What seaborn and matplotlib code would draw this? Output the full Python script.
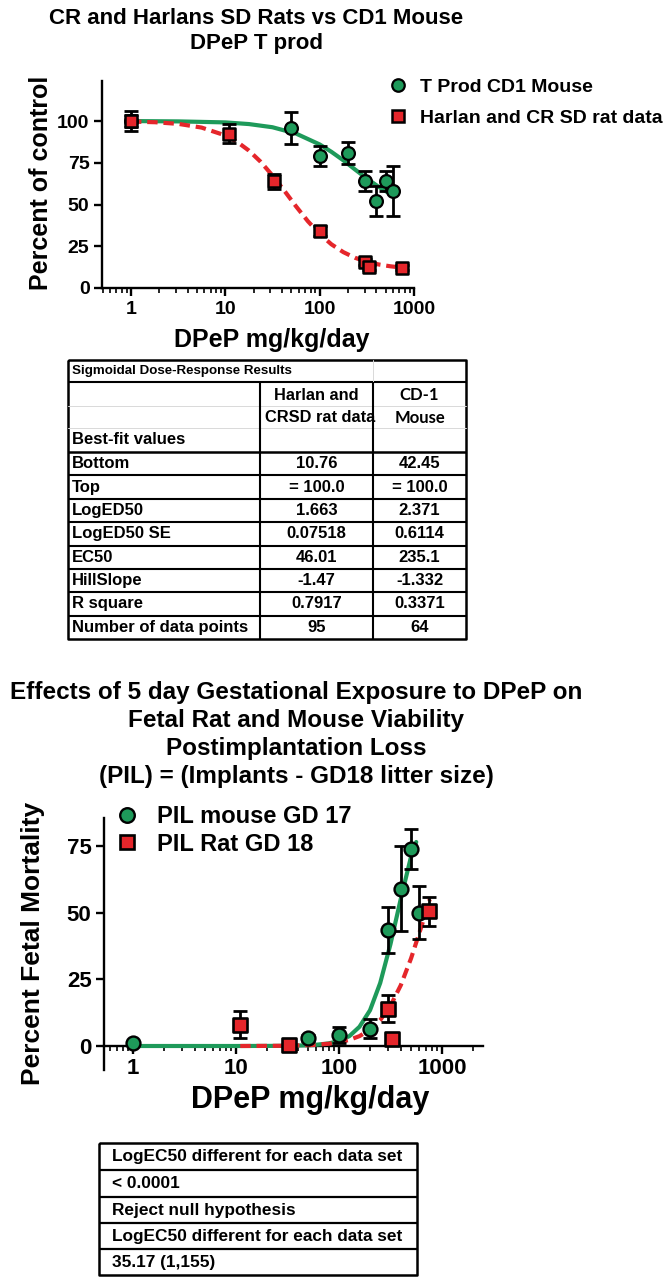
import matplotlib
matplotlib.use("Agg")
import matplotlib.pyplot as plt
from matplotlib.lines import Line2D
from matplotlib.ticker import FixedLocator, LogLocator, NullFormatter
import seaborn as sns

# ---------------- Top chart data ----------------
top_title = ["CR and Harlans SD Rats vs CD1 Mouse", "DPeP T prod"]
top_xlabel = "DPeP mg/kg/day"
top_ylabel = "Percent of control"
top_series = ["T Prod CD1 Mouse", "Harlan and CR SD rat data"]
top_yticks = [0, 25, 50, 75, 100]
top_xticks = [1, 10, 100, 1000]
top_xticklabels = ["1", "10", "100", "1000"]

mouse_dose = [1, 50, 100, 200, 300, 400, 500, 600]
mouse_pct = [100, 96, 79, 81, 64, 52, 64, 58]
mouse_sem = [6, 9.5, 6, 6.5, 6, 9, 6, 15]

rat_dose = [1, 11, 33, 100, 300, 330, 750]
rat_pct = [100, 92.5, 64, 34, 15.5, 12.5, 12]
rat_sem = [3.5, 5.5, 4.5, 3, 2, 1.5, 1.5]

# fitted curves
mouse_fit_dose = [1, 3.2, 10, 17.8, 31.6, 56.2, 100, 133, 178, 237, 316, 422, 600]
mouse_fit_pct = [100, 99.8, 99.2, 98.2, 96.3, 92.5, 86.0, 81.6, 76.5, 71.0, 65.6, 60.6, 55.3]

rat_fit_dose = [1, 1.8, 3.2, 5.6, 10, 13.3, 17.8, 23.7, 31.6, 42.2, 56.2, 75, 100,
                133, 178, 237, 316, 422, 562, 750]
rat_fit_pct = [99.7, 99.3, 98.3, 96.1, 91.4, 87.6, 82.3, 75.6, 67.4, 58.3, 48.9, 40.0,
               32.4, 26.2, 21.5, 18.1, 15.7, 14.1, 13.0, 12.2]

# ---------------- Table 1 ----------------
tab1_caption = "Sigmoidal Dose-Response Results"
tab1_col_rat = ["Harlan and", "CRSD rat data"]
tab1_col_mouse = ["CD-1", "Mouse"]
tab1_section = "Best-fit values"
tab1_rows = ["Bottom", "Top", "LogED50", "LogED50 SE", "EC50", "HillSlope",
             "R square", "Number of data points"]
tab1_rat = ["10.76", "= 100.0", "1.663", "0.07518", "46.01", "-1.47", "0.7917", "95"]
tab1_mouse = ["42.45", "= 100.0", "2.371", "0.6114", "235.1", "-1.332", "0.3371", "64"]

# ---------------- Bottom chart data ----------------
bot_title = ["Effects of 5 day Gestational Exposure to DPeP on",
             "Fetal Rat and Mouse Viability",
             "Postimplantation Loss",
             "(PIL) = (Implants - GD18 litter size)"]
bot_xlabel = "DPeP mg/kg/day"
bot_ylabel = "Percent Fetal Mortality"
bot_series = ["PIL mouse GD 17", "PIL Rat GD 18"]
bot_yticks = [0, 25, 50, 75]
bot_xticks = [1, 10, 100, 1000]
bot_xticklabels = ["1", "10", "100", "1000"]

pil_mouse_dose = [1, 50, 100, 200, 300, 400, 500, 600]
pil_mouse_pct = [1, 3, 4, 6.5, 43.5, 59, 74, 50]
pil_mouse_sem = [0.5, 1, 3, 3.5, 8.5, 16, 7.5, 10]

pil_rat_dose = [11, 33, 300, 330, 750]
pil_rat_pct = [8, 0.5, 14, 2.5, 50.5]
pil_rat_sem = [5, 0.5, 5, 0, 5.5]

pil_mouse_fit_dose = [1, 10, 31.6, 56.2, 79.4, 100, 126, 158, 200, 251, 316, 398, 501, 562]
pil_mouse_fit_pct = [0, 0, 0.06, 0.35, 0.97, 1.9, 3.7, 7.2, 13.4, 23.6, 38.2, 55.2, 71.1, 76.5]

pil_rat_fit_dose = [11, 17.8, 31.6, 56.2, 79.4, 100, 126, 158, 200, 251, 316, 398, 501, 631, 760]
pil_rat_fit_pct = [0, 0.03, 0.1, 0.4, 0.85, 1.4, 2.3, 3.7, 6.1, 9.7, 15.1, 22.8, 32.9, 44.8, 55]

# ---------------- Table 2 ----------------
tab2_rows = ["LogEC50 different for each data set", "< 0.0001", "Reject null hypothesis",
             "LogEC50 different for each data set", "35.17 (1,155)"]

# ================= styling =================
sns.set_theme(style="ticks")
plt.rcParams['font.family'] = ['Liberation Sans', 'DejaVu Sans']
plt.rcParams['font.weight'] = 'bold'
plt.rcParams['axes.labelweight'] = 'bold'
plt.rcParams['axes.linewidth'] = 1.6
for key in ('text.color', 'axes.labelcolor', 'xtick.color', 'ytick.color', 'axes.edgecolor'):
    plt.rcParams[key] = 'black'

GREEN = '#1e9a5a'
RED = '#e5262b'
W, H = 670, 1280

fig = plt.figure(figsize=(W / 100, H / 100), dpi=100)
fig.patch.set_facecolor('white')


def fpos(x0, y0, x1, y1):
    # pixel box (y down) -> figure fraction rect
    return [x0 / W, 1 - y1 / H, (x1 - x0) / W, (y1 - y0) / H]


def style_axis(ax, labelsize):
    sns.despine(ax=ax)
    for s in ('left', 'bottom'):
        ax.spines[s].set_linewidth(1.7)
        ax.spines[s].set_color('black')
    ax.set_xscale('log')
    ax.xaxis.set_minor_locator(LogLocator(base=10, subs=range(2, 10), numticks=20))
    ax.xaxis.set_minor_formatter(NullFormatter())
    ax.tick_params(which='major', direction='out', length=6, width=1.7, colors='black',
                   labelsize=labelsize, pad=3)
    ax.tick_params(which='minor', direction='out', length=3.5, width=1.2, colors='black')
    ax.tick_params(axis='y', which='minor', left=False)
    ax.set_facecolor('white')
    ax.grid(False)


def draw_series(ax, fit_x, fit_y, color, dashed, px, py, pe):
    sns.lineplot(x=fit_x, y=fit_y, ax=ax, color=color, lw=3.0, estimator=None,
                 sort=False, zorder=3 if not dashed else 3.5)
    ln = ax.lines[-1]
    if dashed:
        ln.set_dashes([2.5, 1.4])
    ax.errorbar(px, py, yerr=pe, fmt='none', ecolor='black', elinewidth=2.0,
                capsize=4.8, capthick=2.0, zorder=4)


# ---------- table overlay axes ----------
axt = fig.add_axes([0, 0, 1, 1])
axt.set_xlim(0, W)
axt.set_ylim(H, 0)
axt.axis('off')
axt.patch.set_alpha(0)

# ================= TOP CHART =================
ax1 = fig.add_axes(fpos(102, 81, 414, 288))
style_axis(ax1, 14)
draw_series(ax1, mouse_fit_dose, mouse_fit_pct, GREEN, False, mouse_dose, mouse_pct, mouse_sem)
draw_series(ax1, rat_fit_dose, rat_fit_pct, RED, True, rat_dose, rat_pct, rat_sem)
sns.scatterplot(x=mouse_dose, y=mouse_pct, ax=ax1, marker='o', s=85, color=GREEN,
                edgecolor='black', linewidth=1.6, zorder=5)
sns.scatterplot(x=rat_dose, y=rat_pct, ax=ax1, marker='s', s=85, color=RED,
                edgecolor='black', linewidth=1.8, zorder=6)
ax1.set_xlim(0.493, 1000)
ax1.set_ylim(0, 124)
ax1.yaxis.set_major_locator(FixedLocator(top_yticks))
ax1.set_xticks(top_xticks)
ax1.set_xticklabels(top_xticklabels)
ax1.set_xlabel(top_xlabel, fontsize=18, fontweight='bold', va='center')
ax1.set_ylabel(top_ylabel, fontsize=18, fontweight='bold', va='center')
ax1.xaxis.set_label_coords((272 - 102) / 312, (288 - 340) / 207)
ax1.yaxis.set_label_coords((41 - 102) / 312, (288 - 183) / 207)

h1 = [Line2D([], [], ls='none', marker='o', ms=9, mfc=GREEN, mec='black', mew=1.6),
      Line2D([], [], ls='none', marker='s', ms=9, mfc=RED, mec='black', mew=1.8)]
fig.legend(h1, top_series, loc='upper left', bbox_to_anchor=(388 / W, 1 - 78 / H),
           frameon=False, fontsize=14, handlelength=1.0, handletextpad=0.63,
           labelspacing=0.72, borderpad=0, borderaxespad=0)

fig.text(256 / W, 1 - 18 / H, top_title[0], ha='center', va='center', fontsize=16,
         fontweight='bold')
fig.text(256 / W, 1 - 43 / H, top_title[1], ha='center', va='center', fontsize=16,
         fontweight='bold')

# ================= TABLE 1 =================
L, R, C1, C2 = 68, 466, 260, 373
T, B = 360, 639
row_top = 452
row_h = (B - row_top) / len(tab1_rows)
k = dict(color='black', solid_capstyle='butt')
axt.plot([L, R, R, L, L], [T, T, B, B, T], lw=1.8, **k)
axt.plot([L, R], [382, 382], lw=1.5, **k)
axt.plot([L, R], [row_top, row_top], lw=1.8, **k)
for yy in (406, 428):
    axt.plot([L, R], [yy, yy], lw=0.7, color='#d9d9d9')
axt.plot([C2, C2], [T, 382], lw=0.7, color='#d9d9d9')
for i in range(1, len(tab1_rows)):
    yy = row_top + i * row_h
    axt.plot([L, R], [yy, yy], lw=1.5, **k)
axt.plot([C1, C1], [382, B], lw=1.5, **k)
axt.plot([C2, C2], [382, B], lw=1.5, **k)

axt.text(72, 371, tab1_caption, fontsize=9.6, fontweight='bold', va='center', ha='left')
cx_rat, cx_mouse = (C1 + C2) / 2, (C2 + R) / 2
axt.text(cx_rat, 395, tab1_col_rat[0], fontsize=11.8, fontweight='bold', ha='center', va='center')
axt.text(cx_rat + 4, 418, tab1_col_rat[1], fontsize=11.8, fontweight='bold', ha='center', va='center')
axt.text(cx_mouse, 395, tab1_col_mouse[0], fontsize=12, fontweight='bold', ha='center',
         va='center', family=['Lato', 'DejaVu Sans'])
axt.text(cx_mouse, 418, tab1_col_mouse[1], fontsize=12, fontweight='bold', ha='center',
         va='center', family=['Lato', 'DejaVu Sans'])
axt.text(72, 440, tab1_section, fontsize=12, fontweight='bold', ha='left', va='center')
for i, (lab, a, b) in enumerate(zip(tab1_rows, tab1_rat, tab1_mouse)):
    yc = row_top + (i + 0.5) * row_h
    axt.text(72, yc, lab, fontsize=12, fontweight='bold', ha='left', va='center')
    axt.text(cx_rat, yc, a, fontsize=12, fontweight='bold', ha='center', va='center')
    axt.text(cx_mouse, yc, b, fontsize=12, fontweight='bold', ha='center', va='center')

# ================= BOTTOM CHART =================
for i, line in enumerate(bot_title):
    fig.text(296 / W, 1 - (692 + 28 * i) / H, line, ha='center', va='center',
             fontsize=17.5, fontweight='bold')

ax2 = fig.add_axes(fpos(104, 818, 483, 1070))
style_axis(ax2, 16)
draw_series(ax2, pil_mouse_fit_dose, pil_mouse_fit_pct, GREEN, False,
            pil_mouse_dose, pil_mouse_pct, pil_mouse_sem)
draw_series(ax2, pil_rat_fit_dose, pil_rat_fit_pct, RED, True,
            pil_rat_dose, pil_rat_pct, pil_rat_sem)
sns.scatterplot(x=pil_mouse_dose, y=pil_mouse_pct, ax=ax2, marker='o', s=100, color=GREEN,
                edgecolor='black', linewidth=1.7, zorder=5)
sns.scatterplot(x=pil_rat_dose, y=pil_rat_pct, ax=ax2, marker='s', s=100, color=RED,
                edgecolor='black', linewidth=1.9, zorder=6)
ax2.set_xlim(0.523, 2500)
ax2.set_ylim(-9, 85.5)
ax2.spines['bottom'].set_position(('data', 0))
ax2.yaxis.set_major_locator(FixedLocator(bot_yticks))
ax2.set_xticks(bot_xticks)
ax2.set_xticklabels(bot_xticklabels)
ax2.set_xlabel(bot_xlabel, fontsize=22, fontweight='bold', va='center')
ax2.set_ylabel(bot_ylabel, fontsize=19, fontweight='bold', va='center')
ax2.xaxis.set_label_coords((310 - 104) / 379, (1070 - 1100) / 252)
ax2.yaxis.set_label_coords((33 - 104) / 379, (1070 - 943) / 252)

h2 = [Line2D([], [], ls='none', marker='o', ms=10.5, mfc=GREEN, mec='black', mew=1.7),
      Line2D([], [], ls='none', marker='s', ms=10.5, mfc=RED, mec='black', mew=1.9)]
ax2.legend(h2, bot_series, loc='upper left', bbox_to_anchor=(115 / W, 1 - 805 / H),
           bbox_transform=fig.transFigure, frameon=False, fontsize=17, handlelength=1.0,
           handletextpad=0.78, labelspacing=0.2, borderpad=0, borderaxespad=0)

# ================= TABLE 2 =================
L2, R2 = 99, 417
lines2 = [1143, 1170, 1197, 1223, 1249, 1275]
axt.plot([L2, R2, R2, L2, L2], [lines2[0], lines2[0], lines2[-1], lines2[-1], lines2[0]],
         lw=1.8, **k)
for yy in lines2[1:-1]:
    axt.plot([L2, R2], [yy, yy], lw=1.6, **k)
for i, txt in enumerate(tab2_rows):
    yc = (lines2[i] + lines2[i + 1]) / 2
    axt.text(112, yc, txt, fontsize=12.4, fontweight='bold', ha='left', va='center')

fig.savefig('out.png', dpi=100, facecolor='white')
